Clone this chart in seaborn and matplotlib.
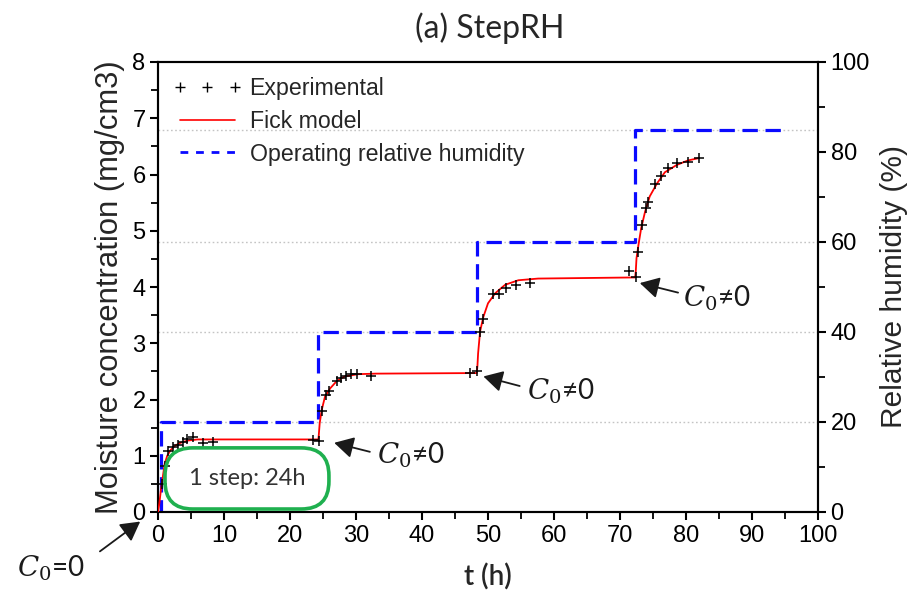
import matplotlib
matplotlib.use("Agg")
import matplotlib.pyplot as plt
import seaborn as sns
from matplotlib.lines import Line2D
from matplotlib.patches import FancyBboxPatch
from matplotlib.ticker import MultipleLocator

# ---------------- data ----------------
exp_t = [0.65, 1.06, 1.56, 2.3, 3.0, 3.8, 4.4, 5.25, 6.8, 8.3, 23.5, 24.4,
         24.9, 25.45, 25.95, 27.1, 27.7, 28.5, 29.2, 30.2, 32.3, 47.2, 48.3,
         48.8, 49.3, 50.8, 51.7, 52.8, 54.2, 56.4, 71.3, 72.4,
         72.8, 73.3, 73.9, 74.3, 75.3, 76.2, 77.2, 78.7, 80.3, 81.9]
exp_c = [0.50, 0.81, 1.09, 1.16, 1.20, 1.25, 1.29, 1.34, 1.23, 1.24, 1.28, 1.27,
         1.80, 2.08, 2.15, 2.33, 2.38, 2.42, 2.45, 2.45, 2.42, 2.48, 2.51,
         3.20, 3.43, 3.87, 3.87, 3.99, 4.04, 4.07, 4.29, 4.18,
         4.63, 5.10, 5.41, 5.51, 5.84, 5.97, 6.11, 6.21, 6.23, 6.29]

model_t = [0.0, 0.2, 0.45, 0.7, 1.0, 1.4, 1.9, 2.6, 3.4, 4.5, 6.0, 10.0, 24.3,
           24.35, 24.5, 24.8, 25.3, 26.1, 27.1, 28.3, 30.3, 33.0, 48.3,
           48.4, 48.5, 48.8, 49.3, 50.0, 51.1, 52.6, 54.6, 57.6, 72.3,
           72.4, 72.5, 72.8, 73.2, 73.8, 74.5, 75.6, 76.8, 78.6, 80.3, 81.9]
model_c = [0.0, 0.15, 0.40, 0.60, 0.85, 1.00, 1.10, 1.18, 1.23, 1.27, 1.29, 1.29, 1.29,
           1.35, 1.58, 1.81, 2.05, 2.20, 2.33, 2.41, 2.45, 2.46, 2.47,
           2.60, 2.82, 3.21, 3.47, 3.71, 3.89, 4.04, 4.12, 4.15, 4.17,
           4.30, 4.51, 4.75, 5.04, 5.34, 5.61, 5.84, 6.04, 6.17, 6.25, 6.29]

rh_t = [0.0, 0.4, 24.2, 48.3, 72.3, 95.0]
rh_v = [0, 20, 40, 60, 85, 85]
rh_levels = [20, 40, 60, 85]

legend_labels = ["Experimental", "Fick model", "Operating relative humidity"]

# ---------------- style ----------------
sns.set_theme(style="ticks")
plt.rcParams['font.family'] = ['Liberation Sans', 'DejaVu Sans']
plt.rcParams['mathtext.fontset'] = 'dejavuserif'
plt.rcParams['axes.edgecolor'] = 'black'
plt.rcParams['axes.linewidth'] = 1.5
plt.rcParams['xtick.color'] = 'black'
plt.rcParams['ytick.color'] = 'black'
CAL = ['Lato', 'DejaVu Sans']

fig = plt.figure(figsize=(9.17, 5.94), dpi=100)
ax = fig.add_axes([158 / 917, 82 / 594, 660 / 917, 450 / 594])
ax2 = ax.twinx()
ax.set_zorder(ax2.get_zorder() + 1)
ax.patch.set_visible(False)

# grey dotted reference lines at the RH levels
for lv in rh_levels:
    ax2.axhline(lv, color='#c4c4c4', ls=(0, (1.2, 1.8)), lw=1.0, zorder=0)

# operating RH (right axis)
sns.lineplot(x=rh_t, y=rh_v, ax=ax2, color='#0a0aff', lw=2.3,
             drawstyle='steps-post', linestyle=(0, (4.8, 2.4)),
             sort=False, estimator=None)

# Fick model and experiment (left axis)
sns.lineplot(x=model_t, y=model_c, ax=ax, color='red', lw=1.3,
             sort=False, estimator=None, zorder=3)
sns.scatterplot(x=exp_t, y=exp_c, ax=ax, marker='+', color='black',
                s=60, linewidth=1.1, zorder=4)

# axes limits / ticks
ax.set_xlim(0, 100)
ax.set_ylim(0, 8)
ax2.set_ylim(0, 100)
ax.xaxis.set_major_locator(MultipleLocator(10))
ax.xaxis.set_minor_locator(MultipleLocator(5))
ax.yaxis.set_major_locator(MultipleLocator(1))
ax.yaxis.set_minor_locator(MultipleLocator(0.5))
ax2.yaxis.set_major_locator(MultipleLocator(20))
ax2.yaxis.set_minor_locator(MultipleLocator(10))
for a in (ax, ax2):
    a.tick_params(which='major', direction='out', length=6, width=1.5,
                  labelsize=17, pad=3)
    a.tick_params(which='minor', direction='out', length=5, width=1.3)
ax.tick_params(axis='x', which='both', top=False)
ax.tick_params(axis='y', which='both', right=False)
ax2.tick_params(axis='y', which='both', left=False)
for s in ax.spines.values():
    s.set_linewidth(1.5)
for s in ax2.spines.values():
    s.set_linewidth(1.5)

ax.set_ylabel('Moisture concentration (mg/cm3)', fontsize=22.3, labelpad=5)
ax2.set_ylabel('Relative humidity (%)', fontsize=21.5, labelpad=7)
ax.set_xlabel('t (h)', fontsize=20, family=CAL, fontweight='semibold',
              labelpad=12)

fig.text(490 / 917, 1 - 28 / 594, '(a) StepRH', ha='center', va='center',
         fontsize=23, family=CAL)

# legend
handles = [
    Line2D([], [], marker='+', ls='none', color='black', markersize=6.5, mew=1.0),
    Line2D([], [], color='red', lw=1.2),
    Line2D([], [], color='#0a0aff', lw=2.0, ls=(0, (2.8, 2.8))),
]
ax.legend(handles=handles, labels=legend_labels, loc='upper left',
          frameon=False, fontsize=16.7, numpoints=3, handlelength=2.95,
          handletextpad=0.35, labelspacing=0.42, borderaxespad=0.25,
          borderpad=0.4)

# green rounded box
box = FancyBboxPatch((1.06, 0.053), 24.84, 1.087,
                     boxstyle='round,pad=0,rounding_size=4.2',
                     mutation_aspect=6.6 / 56.25,
                     ec='#1fb04f', fc='none', lw=2.6, zorder=5)
ax.add_patch(box)
ax.text(13.5, 0.6, '1 step: 24h', ha='center', va='center', fontsize=17,
        family=CAL, color='#333333', zorder=6)

# annotations
arrow_kw = dict(arrowstyle='-|>,head_length=0.45,head_width=0.25',
                mutation_scale=26, color='#1a1a1a', lw=1.3,
                shrinkA=0, shrinkB=0)
ann_head = [(26.7, 1.23), (49.3, 2.41), (73.0, 4.07), (-2.7, -0.17)]
ann_tail = [(32.1, 1.07), (54.8, 2.24), (78.8, 3.90), (-8.8, -0.70)]
ann_text_pos = [(33.2, 1.01), (55.9, 2.14), (79.5, 3.80), (-21.4, -1.0)]
ann_text = [r'$\mathit{C}_0$≠0', r'$\mathit{C}_0$≠0', r'$\mathit{C}_0$≠0',
            r'$\mathit{C}_0$=0']
for h, t, p, s in zip(ann_head, ann_tail, ann_text_pos, ann_text):
    ax.annotate('', xy=h, xytext=t, arrowprops=arrow_kw,
                annotation_clip=False, zorder=7)
    ax.text(p[0], p[1], s, ha='left', va='center', fontsize=20,
            family=CAL, color='#1a1a1a', clip_on=False, zorder=7)

fig.savefig('out.png', dpi=100)
